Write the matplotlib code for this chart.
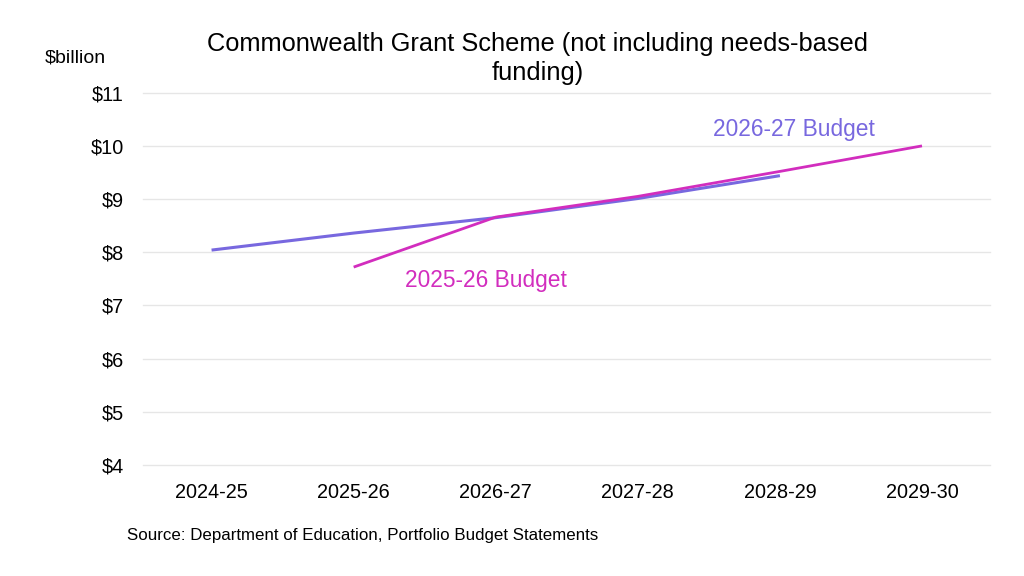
import matplotlib
matplotlib.use("Agg")
import matplotlib.pyplot as plt

plt.rcParams["font.family"] = ["Liberation Sans", "DejaVu Sans"]

# ---------- data ----------
years = ["2024-25", "2025-26", "2026-27", "2027-28", "2028-29", "2029-30"]
budget_2526_years = years[0:5]
budget_2526_vals = [8.04, 8.36, 8.65, 9.01, 9.44]
budget_2627_years = years[1:6]
budget_2627_vals = [7.72, 8.66, 9.05, 9.52, 10.0]
yticks = [4, 5, 6, 7, 8, 9, 10, 11]

PURPLE = "#7868DF"
MAGENTA = "#D22DBE"

fig = plt.figure(figsize=(10.24, 5.76), dpi=100)
ax = fig.add_axes([0.140, 0.193, 0.827, 0.646])

x_all = list(range(len(years)))
ax.plot([years.index(y) for y in budget_2526_years], budget_2526_vals,
        color=PURPLE, lw=2.2, solid_capstyle="butt")
ax.plot([years.index(y) for y in budget_2627_years], budget_2627_vals,
        color=MAGENTA, lw=2.0, solid_capstyle="butt")

ax.set_xlim(-0.48, 5.48)
ax.set_ylim(4, 11)
ax.set_xticks(x_all)
ax.set_xticklabels(years, fontsize=14.3)
ax.set_yticks(yticks)
ax.set_yticklabels([f"${v}" for v in yticks], fontsize=14.3)
ax.tick_params(length=0)
ax.tick_params(axis="y", pad=14)
ax.tick_params(axis="x", pad=13)
ax.grid(axis="y", color="#e6e6e6", lw=1)
for gl in ax.get_ygridlines():
    gl.set_clip_on(False)
ax.set_axisbelow(True)
for s in ax.spines.values():
    s.set_visible(False)

# line labels
ax.text(4.1, 10.3, "2026-27 Budget", color=PURPLE, fontsize=16.4,
        ha="center", va="center")
ax.text(1.93, 7.47, "2025-26 Budget", color=MAGENTA, fontsize=16.4,
        ha="center", va="center")

fig.text(0.525, 0.899, "Commonwealth Grant Scheme (not including needs-based\nfunding)",
         ha="center", va="center", fontsize=18.3, linespacing=1.25)
fig.text(0.044, 0.900, "$billion", fontsize=14, ha="left", va="center")
fig.text(0.124, 0.070, "Source: Department of Education, Portfolio Budget Statements",
         fontsize=12.2, ha="left", va="center")

fig.savefig("out.png", dpi=100)
